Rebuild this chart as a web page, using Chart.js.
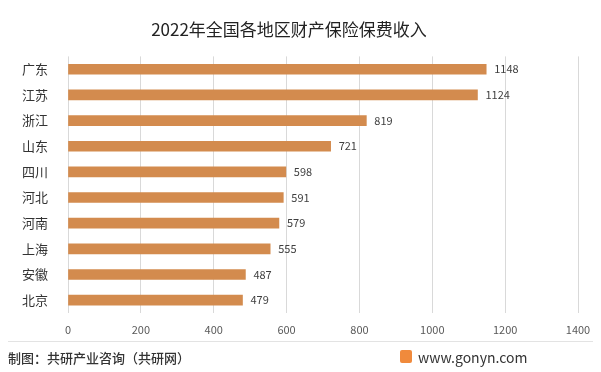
<!DOCTYPE html>
<html>
<head>
<meta charset="utf-8">
<script src="https://cdn.jsdelivr.net/npm/chart.js@4"></script>
<style>
  body { margin: 0; background: #fff; }
  #wrap { position: relative; width: 601px; height: 372px; font-family: "Noto Sans CJK SC", "Noto Sans", sans-serif; }
  #c { position: absolute; left: 0; top: 0; }
  .sep { position: absolute; left: 8px; top: 341px; width: 585px; height: 1px; background: #e3e3e3; }
  .src { position: absolute; left: 8px; top: 348px; font-size: 13px; color: #333; font-weight: 500; }
  .site { position: absolute; left: 418px; top: 347px; font-size: 14px; color: #333; }
  .logo { position: absolute; left: 400px; top: 350px; width: 12px; height: 13px; background: #f08a3c; border-radius: 2px; }
</style>
</head>
<body>
<div id="wrap">
  <canvas id="c" width="601" height="372"></canvas>
  <div class="sep"></div>
  <div class="src">制图：共研产业咨询（共研网）</div>
  <div class="logo"></div>
  <div class="site">www.gonyn.com</div>
</div>
<script>
const regions = ['广东', '江苏', '浙江', '山东', '四川', '河北', '河南', '上海', '安徽', '北京'];
const premiums = [1148, 1124, 819, 721, 598, 591, 579, 555, 487, 479];
const chartTitle = '2022年全国各地区财产保险保费收入';
const xMax = 1400;
const xStep = 200;

// labels at the end of each bar
const valueLabels = {
    id: 'valueLabels',
    afterDatasetsDraw(chart) {
        const ctx = chart.ctx;
        const meta = chart.getDatasetMeta(0);
        ctx.save();
        ctx.font = '11px "Noto Sans CJK SC", sans-serif';
        ctx.fillStyle = '#404040';
        ctx.textBaseline = 'middle';
        meta.data.forEach((bar, i) => {
            ctx.fillText(premiums[i], bar.x + 8, bar.y);
        });
        ctx.restore();
    }
};

new Chart(document.getElementById('c'), {
    type: 'bar',
    data: {
        labels: regions,
        datasets: [{
            data: premiums,
            backgroundColor: '#d38b4e',
            barThickness: 10
        }]
    },
    options: {
        indexAxis: 'y',
        responsive: false,
        animation: false,
        layout: { padding: { left: 0, right: 23, top: 0, bottom: 35 } },
        plugins: {
            legend: { display: false },
            tooltip: { enabled: false },
            title: {
                display: true,
                text: chartTitle,
                color: '#222',
                font: { size: 17, family: '"Noto Sans CJK SC", sans-serif', weight: 'normal' },
                padding: { top: 19, bottom: 17 }
            }
        },
        scales: {
            x: {
                min: 0,
                max: xMax,
                ticks: {
                    stepSize: xStep,
                    color: '#595959',
                    font: { size: 11, family: '"Noto Sans CJK SC", sans-serif' },
                    padding: 10,
                    callback: v => String(v)
                },
                grid: { color: '#d9d9d9', drawTicks: false },
                border: { display: false },
                afterFit: s => { s.height = 24; }
            },
            y: {
                ticks: {
                    color: '#333',
                    font: { size: 13, family: '"Noto Sans CJK SC", sans-serif' },
                    padding: 12
                },
                grid: { display: false },
                border: { display: false },
                afterFit: s => { s.width = 68; }
            }
        }
    },
    plugins: [valueLabels]
});
</script>
</body>
</html>
